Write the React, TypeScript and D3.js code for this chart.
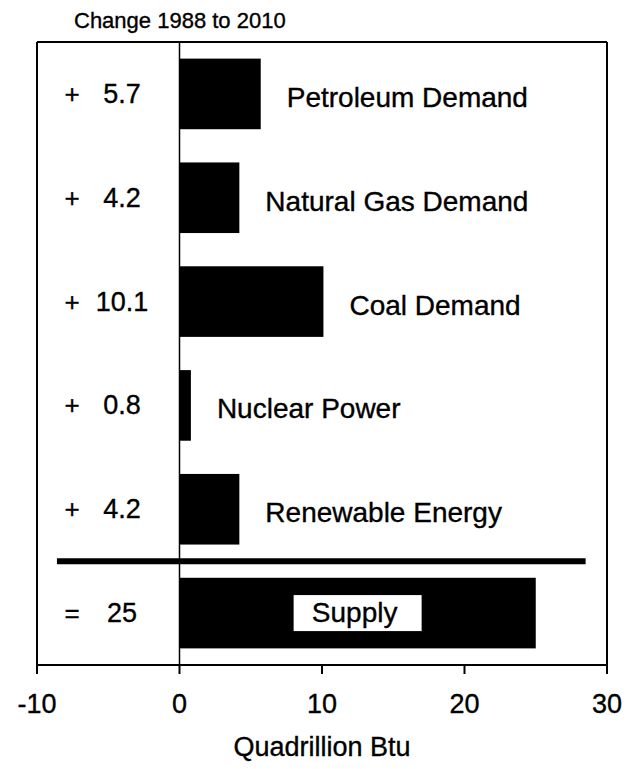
import React from "react";
import * as d3 from "d3";

const title = "Change 1988 to 2010";
const axisTitle = "Quadrillion Btu";
const categories = [
  "Petroleum Demand",
  "Natural Gas Demand",
  "Coal Demand",
  "Nuclear Power",
  "Renewable Energy",
  "Supply",
];
const values = [5.7, 4.2, 10.1, 0.8, 4.2, 25];
const signs = ["+", "+", "+", "+", "+", "="];
const valueLabels = ["5.7", "4.2", "10.1", "0.8", "4.2", "25"];
const xTicks = [-10, 0, 10, 20, 30];
const xDomain = [-10, 30];
const separatorExtent = [-8.6, 28.5];

const W = 635;
const H = 769;
const FONT = "'Liberation Sans', Arial, Helvetica, sans-serif";

export default function App() {
  const top = 42;
  const axisY = 665;
  const x = d3.scaleLinear().domain(xDomain).range([37, 607]);
  const y = d3
    .scaleBand<string>()
    .domain(categories)
    .range([top, axisY])
    .paddingInner(0.32)
    .paddingOuter(0.16);
  const bw = y.bandwidth();
  const sepY = (y(categories[4])! + bw + y(categories[5])!) / 2;
  const supplyIdx = categories.length - 1;
  const ts = { stroke: "#000", strokeWidth: 0.35 };

  return (
    <svg
      width={W}
      height={H}
      style={{ position: "absolute", left: 0, top: 0, background: "#fff" }}
      fontFamily={FONT}
    >
      <rect x={0} y={0} width={W} height={H} fill="#fff" />
      <text x={74} y={28} fontSize={22} fill="#000" {...ts}>
        {title}
      </text>
      <line x1={x(xDomain[0])} x2={x(xDomain[1])} y1={top} y2={top} stroke="#000" strokeWidth={2} />
      <line x1={x(xDomain[0])} x2={x(xDomain[0])} y1={top} y2={axisY + 9} stroke="#000" strokeWidth={2} />
      <line x1={x(xDomain[1])} x2={x(xDomain[1])} y1={top} y2={axisY + 9} stroke="#000" strokeWidth={2} />
      <line x1={x(xDomain[0])} x2={x(xDomain[1])} y1={axisY} y2={axisY} stroke="#000" strokeWidth={2} />
      {xTicks.map((t) => (
        <g key={t}>
          <line x1={x(t)} x2={x(t)} y1={axisY} y2={axisY + 9} stroke="#000" strokeWidth={2} />
          <text x={x(t)} y={713} fontSize={27} textAnchor="middle" fill="#000" {...ts}>
            {t}
          </text>
        </g>
      ))}
      <text x={322} y={756} fontSize={27} textAnchor="middle" fill="#000" {...ts}>
        {axisTitle}
      </text>
      <line x1={x(0)} x2={x(0)} y1={top} y2={axisY} stroke="#000" strokeWidth={1.5} />
      {categories.map((c, i) => {
        const by = y(c)!;
        const cy = by + bw / 2;
        const x0 = x(Math.min(0, values[i]));
        const x1 = x(Math.max(0, values[i]));
        return (
          <g key={c}>
            <rect x={x0} y={by} width={x1 - x0} height={bw} fill="#000" />
            <text x={72} y={cy + 9} fontSize={26} textAnchor="middle" fill="#000" {...ts}>
              {signs[i]}
            </text>
            <text x={122} y={cy + 9} fontSize={27} textAnchor="middle" fill="#000" {...ts}>
              {valueLabels[i]}
            </text>
            {i === supplyIdx ? (
              <g>
                <rect x={(x0 + x1) / 2 - 64} y={cy - 18} width={128} height={36} fill="#fff" />
                <text x={(x0 + x1) / 2 - 3} y={cy + 9} fontSize={28} textAnchor="middle" fill="#000" {...ts}>
                  {c}
                </text>
              </g>
            ) : (
              <text x={x1 + 26} y={cy + 13} fontSize={28} fill="#000" {...ts}>
                {c}
              </text>
            )}
          </g>
        );
      })}
      <line
        x1={x(separatorExtent[0])}
        x2={x(separatorExtent[1])}
        y1={sepY}
        y2={sepY}
        stroke="#000"
        strokeWidth={6}
      />
    </svg>
  );
}
